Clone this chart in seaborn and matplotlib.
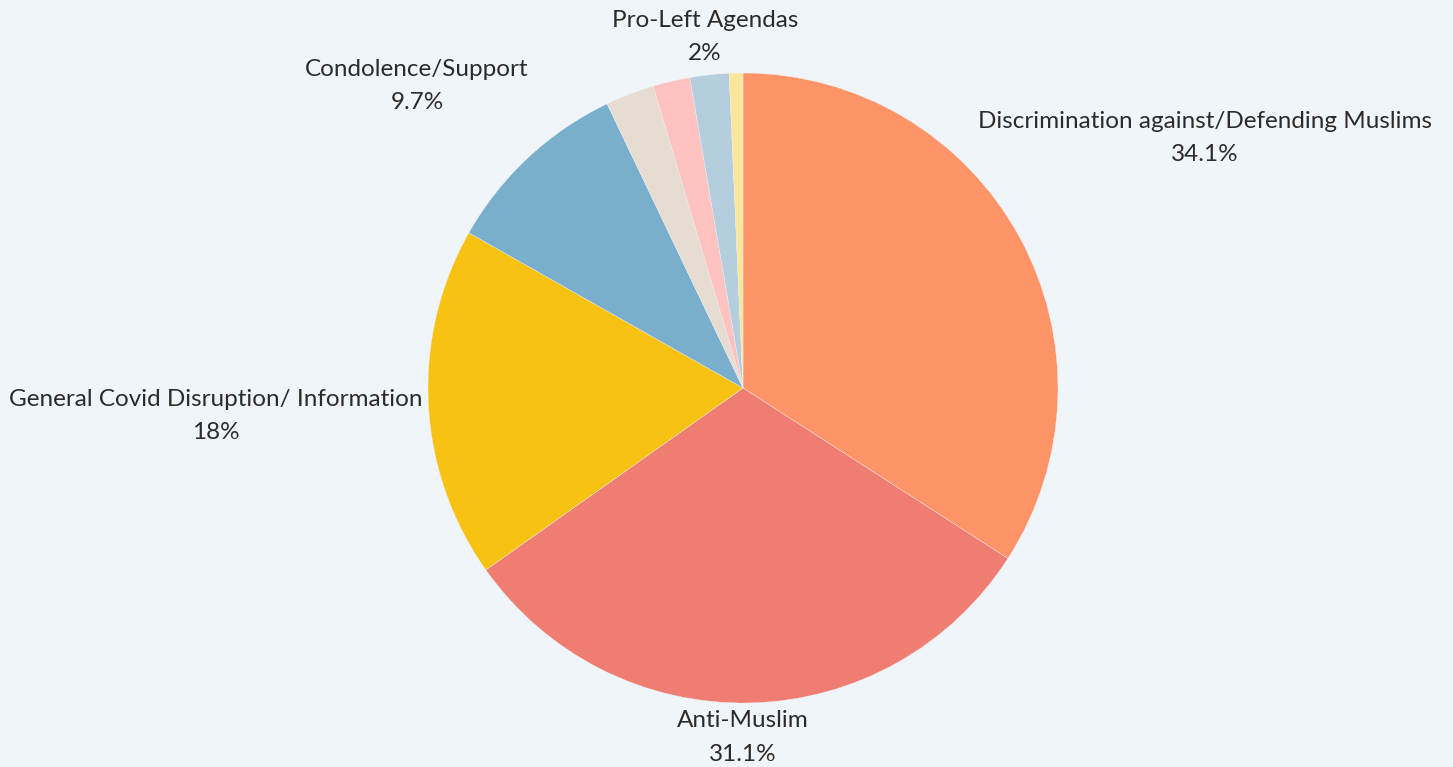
import matplotlib
matplotlib.use("Agg")
import matplotlib.pyplot as plt
import seaborn as sns

# Share of posts by theme (percent), clockwise from 12 o'clock
categories = [
    "Discrimination against/Defending Muslims",
    "Anti-Muslim",
    "General Covid Disruption/ Information",
    "Condolence/Support",
    "Other",
    "Religious",
    "Pro-Left Agendas",
    "Misc",
]
values = [34.1, 31.1, 18.0, 9.7, 2.5, 1.9, 2.0, 0.7]
labels_shown = ["34.1%", "31.1%", "18%", "9.7%", None, None, "2%", None]
colors = ["#FE9467", "#F07D72", "#F8C213", "#79AFCD",
          "#E6DCD2", "#FEC3C0", "#B4CEDE", "#FDE69A"]

# Label anchor points in pie-radius units
label_pos = {
    0: (1.467, 0.794),
    1: (0.0, -1.11),
    2: (-1.673, -0.089),
    3: (-1.035, 0.959),
    6: (-0.121, 1.114),
}

bg = "#F0F5F9"
sns.set_theme(style="white")
plt.rcParams["font.family"] = ["Lato", "DejaVu Sans"]

fig = plt.figure(figsize=(14.53, 7.67), dpi=100, facecolor=bg)
ax = fig.add_axes([0, 0, 1, 1])
ax.set_facecolor(bg)

ax.pie(values, colors=colors, startangle=90, counterclock=False,
       radius=1.0, center=(0, 0),
       wedgeprops=dict(edgecolor=bg, linewidth=0.25))

for i, (x, y) in label_pos.items():
    ax.text(x, y, f"{categories[i]}\n{labels_shown[i]}", ha="center", va="center",
            fontsize=17.5, color="#2B2B2B", linespacing=1.75)

ax.set_xlim(-743 / 315, (1453 - 743) / 315)
ax.set_ylim(-(767 - 388) / 315, 388 / 315)
ax.set_aspect("auto")
ax.axis("off")

fig.savefig("out.png", dpi=100, facecolor=bg)
